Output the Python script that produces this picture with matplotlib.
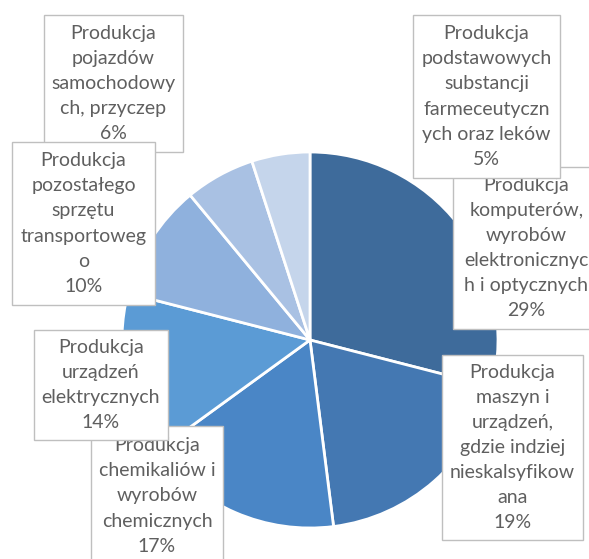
import matplotlib
matplotlib.use("Agg")
import matplotlib.pyplot as plt
from matplotlib.patches import Rectangle

W, H = 589, 559

shares = [29, 19, 17, 14, 10, 6, 5]
names = [
    "Produkcja\nkomputerów,\nwyrobów\nelektronicznyc\nh i optycznych",
    "Produkcja\nmaszyn i\nurządzeń,\ngdzie indziej\nnieskalsyfikow\nana",
    "Produkcja\nchemikaliów i\nwyrobów\nchemicznych",
    "Produkcja\nurządzeń\nelektrycznych",
    "Produkcja\npozostałego\nsprzętu\ntransportoweg\no",
    "Produkcja\npojazdów\nsamochodowy\nch, przyczep",
    "Produkcja\npodstawowych\nsubstancji\nfarmeceutyczn\nych oraz leków",
]
colors = ["#3e6b9b", "#4478b2", "#4a86c6", "#5b9bd5", "#8fb1dd", "#a9c1e3", "#c5d5eb"]

# label boxes in pixels (left, top, right, bottom), drawn in this order
boxes = {
    0: (453, 167, 600, 329),
    6: (413, 15, 560, 178),
    1: (442, 355, 583, 540),
    2: (91, 426, 223, 566),
    3: (34, 330, 168, 440),
    5: (44, 15, 183, 152),
    4: (12, 142, 155, 305),
}

fig = plt.figure(figsize=(W / 100, H / 100), dpi=100)
cx, cy, r = 310, 340, 188
ax = fig.add_axes([(cx - r) / W, (H - cy - r) / H, 2 * r / W, 2 * r / H])
ax.pie(shares, colors=colors, startangle=90, counterclock=False,
       wedgeprops=dict(edgecolor="white", linewidth=2))
ax.set_xlim(-1, 1)
ax.set_ylim(-1, 1)
ax.set_aspect("equal")
ax.axis("off")

z = 10
for i, (x0, y0, x1, y1) in boxes.items():
    rect = Rectangle((x0 / W, 1 - y1 / H), (x1 - x0) / W, (y1 - y0) / H,
                     transform=fig.transFigure, facecolor="white",
                     edgecolor="#bfbfbf", linewidth=1, zorder=z)
    fig.add_artist(rect)
    fig.text((x0 + x1) / 2 / W, 1 - (y0 + y1) / 2 / H,
             f"{names[i]}\n{shares[i]}%", ha="center", va="center",
             multialignment="center", fontsize=14, family=["Lato", "DejaVu Sans"],
             color="#5f5f5f", linespacing=1.58, zorder=z + 1)
    z += 2

fig.savefig("out.png", dpi=100)
